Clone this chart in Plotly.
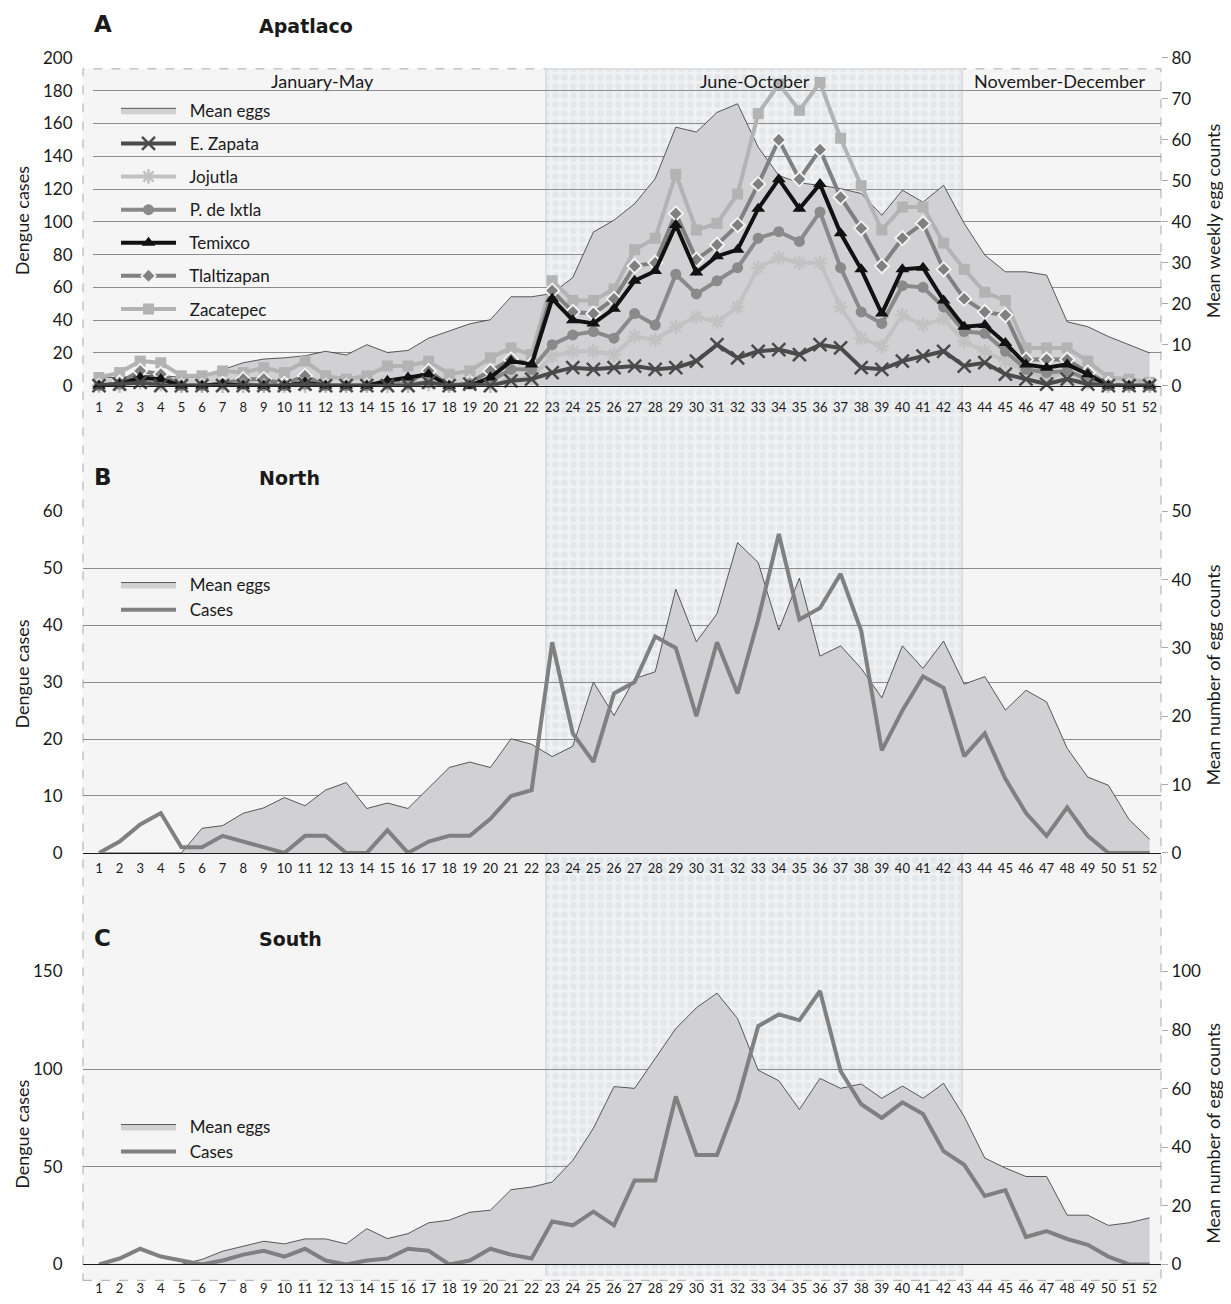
import plotly.graph_objects as go

W, H = 1231, 1304          # browser window
OFF = 8                    # default body margin of the page
FW, FH = W - 2 * OFF, H - 2 * OFF
# measured vertical placement of the rendered page inside the photograph
PHOTO_Y0, PHOTO_YS = 10.1, 0.9796

# ---------------- data ----------------
weeks = list(range(1, 53))
week_labels = [str(w) for w in weeks]

# Panel A - Apatlaco (mean eggs on right axis, cases on left axis)
apatlaco_eggs = [2.0, 2.0, 2.5, 2.5, 2.0, 2.3, 3.9, 5.6, 6.5, 6.8, 7.3, 8.4, 7.5, 10.0, 8.1, 8.6,
                 11.6, 13.3, 15.1, 16.1, 21.7, 21.7, 22.5, 26.4, 37.5, 40.4, 44.4, 50.5, 63.1, 61.9,
                 66.7, 68.8, 58.2, 51.3, 49.5, 48.9, 48.1, 46.9, 41.6, 47.7, 44.8, 48.9, 39.6, 31.9,
                 27.8, 27.8, 27.0, 15.6, 14.4, 12.0, 10.0, 8.0]
e_zapata = [0, 1, 2, 0, 0, 0, 0, 0, 0, 0, 1, 0, 0, 0, 0, 0, 2, 0, 1, 0, 3, 4,
            8, 11, 10, 11, 12, 10, 11, 15, 25, 17, 21, 22, 19, 25,
            23, 11, 10, 15, 18, 21, 12, 14, 7, 4, 1, 4, 1, 0, 0, 0]
jojutla = [0, 0, 2, 1, 0, 0, 0, 0, 0, 0, 0, 0, 0, 0, 0, 0, 1, 0, 2, 0, 4, 5,
           18, 21, 21, 19, 30, 28, 36, 42, 39, 48, 72, 78, 75, 75,
           48, 29, 24, 43, 37, 41, 27, 21, 15, 9, 4, 9, 2, 0, 0, 0]
p_ixtla = [0, 1, 3, 2, 0, 0, 1, 1, 0, 0, 1, 0, 0, 0, 1, 1, 2, 0, 1, 3, 10, 10,
           25, 31, 33, 29, 44, 37, 68, 56, 64, 72, 90, 94, 88, 106,
           72, 45, 38, 61, 60, 48, 33, 32, 21, 10, 8, 9, 4, 0, 0, 0]
temixco = [0, 1, 5, 4, 0, 0, 1, 0, 0, 0, 2, 0, 0, 0, 3, 5, 7, 0, 0, 5, 15, 13,
           53, 40, 38, 47, 64, 70, 98, 69, 79, 83, 108, 126, 108, 123,
           93, 71, 44, 71, 72, 52, 36, 37, 26, 13, 11, 13, 7, 0, 0, 0]
tlaltizapan = [0, 2, 9, 7, 0, 0, 1, 4, 4, 1, 6, 0, 0, 0, 1, 2, 9, 0, 2, 9, 16, 13,
               58, 45, 44, 53, 73, 75, 105, 77, 86, 98, 123, 150, 126, 144,
               115, 96, 73, 90, 99, 71, 53, 45, 43, 16, 16, 16, 8, 1, 0, 0]
zacatepec = [5, 8, 15, 14, 6, 6, 9, 8, 11, 8, 15, 6, 4, 6, 12, 12, 15, 7, 9, 17, 23, 19,
             64, 52, 52, 59, 83, 90, 129, 95, 99, 117, 166, 184, 168, 185,
             151, 122, 95, 109, 109, 87, 71, 57, 52, 23, 23, 23, 15, 5, 4, 2]

# Panel B - North
north_eggs = [0, 0, 0, 0, 0, 3.6, 4.0, 5.8, 6.6, 8.1, 6.9, 9.2, 10.3, 6.5, 7.3, 6.5, 9.5,
              12.5, 13.3, 12.5, 16.7, 15.9, 14.1, 15.6, 25.0, 20.1, 25.5, 26.5, 38.6, 30.9,
              35.0, 45.4, 42.5, 32.6, 40.2, 28.8, 30.3, 27.0, 22.7, 30.3, 27.0, 31.0, 24.7,
              25.8, 20.9, 23.8, 22.1, 15.3, 11.1, 9.9, 4.9, 2.0]
north_cases = [0, 2, 5, 7, 1, 1, 3, 2, 1, 0, 3, 3, 0, 0, 4, 0, 2, 3, 3, 6, 10, 11,
               37, 21, 16, 28, 30, 38, 36, 24, 37, 28, 41, 56, 41, 43, 49, 39, 18, 25,
               31, 29, 17, 21, 13, 7, 3, 8, 3, 0, 0, 0]

# Panel C - South
south_eggs = [0, 0, 0, 0, 0, 1.7, 4.5, 6.2, 7.9, 7.0, 8.7, 8.7, 7.0, 12.2, 8.8, 10.5, 14.2,
              15.1, 17.8, 18.5, 25.5, 26.4, 28.1, 35.5, 46.5, 60.7, 60.1, 70.3, 80.5, 87.6,
              92.6, 83.9, 66.3, 62.7, 52.9, 63.5, 60.1, 61.6, 56.7, 60.9, 56.7, 61.8, 50.5,
              36.3, 32.9, 30.0, 30.0, 16.8, 16.8, 13.3, 14.2, 15.9]
south_cases = [0, 3, 8, 4, 2, 0, 2, 5, 7, 4, 8, 2, 0, 2, 3, 8, 7, 0, 2, 8, 5, 3,
               22, 20, 27, 20, 43, 43, 86, 56, 56, 84, 122, 128, 125, 140, 99, 82, 75, 83,
               77, 58, 51, 35, 38, 14, 17, 13, 10, 4, 0, 0]

season_names = ["January-May", "June-October", "November-December"]
rainy_season_weeks = (22.7, 42.9)

# ---------------- helpers ----------------
FONT = "Lato, 'Open Sans', sans-serif"
TITLE_FONT = "'DejaVu Sans', sans-serif"
WEEK1_PX, WEEK_STEP = 99.0, 20.6
NB = "\u00a0\u00a0"


def fx(p):
    return (p - OFF) / FW


def fy(t):
    page = (t - PHOTO_Y0) / PHOTO_YS
    return 1 - (page - OFF) / FH


def week_at(p):
    return (p - WEEK1_PX) / WEEK_STEP + 1


fig = go.Figure()

# rainy-season patterned band (drawn first -> bottom layer)
fig.add_trace(go.Scatter(
    x=[rainy_season_weeks[0], rainy_season_weeks[1], rainy_season_weeks[1], rainy_season_weeks[0], rainy_season_weeks[0]],
    y=[68, 68, 1284, 1284, 68], xaxis="x", yaxis="y", mode="lines", fill="toself",
    line=dict(color="#dcdfe2", width=2), fillcolor="#eef0f2",
    fillpattern=dict(shape=".", fgcolor="#dadde1", bgcolor="#eff1f3", size=9, solidity=0.45),
    showlegend=False, hoverinfo="skip"))

EGG_FILL = "#d1d1d3"
EGG_LINE = "#333333"

# ---- Panel A ----
fig.add_trace(go.Scatter(x=weeks, y=apatlaco_eggs, name=NB + "Mean eggs", xaxis="x2", yaxis="y2",
                         mode="lines", fill="tozeroy", fillcolor=EGG_FILL,
                         line=dict(color=EGG_LINE, width=0.8), legend="legend",
                         legendgroup="a0", legendrank=1, cliponaxis=False))

series_a = [
    ("Zacatepec", zacatepec, "#b3b3b3", "square", 11, None, 7),
    ("Tlaltizapan", tlaltizapan, "#808080", "diamond", 11, "#f4f4f4", 6),
    ("Jojutla", jojutla, "#c2c2c2", "asterisk-open", 12, None, 3),
    ("P. de Ixtla", p_ixtla, "#8a8a8a", "circle", 11, None, 4),
    ("Temixco", temixco, "#111111", "triangle-up", 12, None, 5),
    ("E. Zapata", e_zapata, "#4a4a4a", "x-thin-open", 13, None, 2),
]
for name, vals, col, sym, size, mline, rank in series_a:
    if sym.endswith("open"):
        marker = dict(symbol=sym, size=size, color=col, line=dict(color=col, width=2.5))
    elif mline:
        marker = dict(symbol=sym, size=size, color=col, line=dict(color=mline, width=1.8))
    else:
        marker = dict(symbol=sym, size=size, color=col, line=dict(width=0))
    fig.add_trace(go.Scatter(x=weeks, y=vals, name=NB + name, xaxis="x2", yaxis="y3",
                             mode="lines+markers", line=dict(color=col, width=4),
                             marker=marker, legend="legend", legendgroup="a%d" % rank,
                             legendrank=rank, cliponaxis=False))

# ---- Panel B ----
fig.add_trace(go.Scatter(x=weeks, y=north_eggs, name=NB + "Mean eggs", xaxis="x3", yaxis="y4",
                         mode="lines", fill="tozeroy", fillcolor=EGG_FILL,
                         line=dict(color=EGG_LINE, width=0.8), legend="legend2", cliponaxis=False))
fig.add_trace(go.Scatter(x=weeks, y=north_cases, name=NB + "Cases", xaxis="x3", yaxis="y5",
                         mode="lines", line=dict(color="#808080", width=4), legend="legend2",
                         cliponaxis=False))

# ---- Panel C ----
fig.add_trace(go.Scatter(x=weeks, y=south_eggs, name=NB + "Mean eggs", xaxis="x4", yaxis="y6",
                         mode="lines", fill="tozeroy", fillcolor=EGG_FILL,
                         line=dict(color=EGG_LINE, width=0.8), legend="legend3", cliponaxis=False))
fig.add_trace(go.Scatter(x=weeks, y=south_cases, name=NB + "Cases", xaxis="x4", yaxis="y7",
                         mode="lines", line=dict(color="#808080", width=4), legend="legend3",
                         cliponaxis=False))

# ---------------- axes ----------------
TICKF = dict(family=FONT, size=17, color="#1a1a1a")
WEEKF = dict(family=FONT, size=13, color="#1a1a1a")
GRID = "#8c8c8c"


def xaxis_def(left_px, anchor, standoff):
    return dict(domain=[fx(left_px), fx(1161)], range=[week_at(left_px), week_at(1161)],
                anchor=anchor, tickmode="array", tickvals=weeks, ticktext=week_labels,
                tickfont=WEEKF, ticks="outside", ticklen=standoff, tickcolor="rgba(0,0,0,0)",
                showgrid=False, zeroline=False, showline=True, linecolor="#1a1a1a",
                linewidth=1.3, fixedrange=True)


def egg_axis(top_px, bottom_px, rmax, step, anchor):
    return dict(domain=[fy(bottom_px), fy(top_px)], range=[0, rmax], anchor=anchor, side="right",
                tickmode="linear", tick0=0, dtick=step, tickfont=TICKF, showgrid=False,
                zeroline=False, ticks="outside", ticklen=6, tickcolor="#aaaaaa", fixedrange=True)


def case_axis(rmax, step, anchor, over, standoff):
    return dict(range=[0, rmax], anchor=anchor, overlaying=over, side="left",
                tickmode="linear", tick0=0, dtick=step, tickfont=TICKF, showgrid=True,
                gridcolor=GRID, gridwidth=1, zeroline=False, ticks="outside",
                ticklen=standoff, tickcolor="rgba(0,0,0,0)", fixedrange=True)


layout = dict(
    width=FW, height=FH, margin=dict(l=0, r=0, t=0, b=0),
    paper_bgcolor="white", plot_bgcolor="rgba(0,0,0,0)",
    font=dict(family=FONT, color="#1a1a1a"),
    xaxis=dict(domain=[fx(83), fx(1161)], range=[week_at(83), week_at(1161)], visible=False,
               fixedrange=True),
    yaxis=dict(domain=[0, 1],
               range=[PHOTO_Y0 + PHOTO_YS * (H - OFF), PHOTO_Y0 + PHOTO_YS * OFF],
               visible=False, fixedrange=True),
    xaxis2=xaxis_def(93, "y2", 10),
    yaxis2=egg_axis(57, 386, 80, 10, "x2"),
    yaxis3=case_axis(200, 20, "x2", "y2", 16),
    xaxis3=xaxis_def(83, "y4", 3),
    yaxis4=egg_axis(512, 855, 50, 10, "x3"),
    yaxis5=case_axis(60, 10, "x3", "y4", 16),
    xaxis4=xaxis_def(83, "y6", 12),
    yaxis6=egg_axis(974, 1268, 100, 20, "x4"),
    yaxis7=case_axis(150, 50, "x4", "y6", 16),
)

LEGF = dict(family=FONT, size=17, color="#1a1a1a")
layout["legend"] = dict(x=fx(116), y=fy(92), xanchor="left", yanchor="top", font=LEGF,
                        bgcolor="rgba(0,0,0,0)", itemwidth=55, tracegroupgap=8,
                        traceorder="grouped")
layout["legend2"] = dict(x=fx(116), y=fy(568), xanchor="left", yanchor="top", font=LEGF,
                         bgcolor="rgba(0,0,0,0)", itemwidth=55)
layout["legend3"] = dict(x=fx(116), y=fy(1112), xanchor="left", yanchor="top", font=LEGF,
                         bgcolor="rgba(0,0,0,0)", itemwidth=55)

fig.update_layout(**layout)

# background box with dashed border
fig.add_shape(type="rect", xref="paper", yref="paper", x0=fx(83), x1=fx(1161), y0=fy(1284),
              y1=fy(68), fillcolor="#f5f5f5", line=dict(color="#a9a9a9", width=1, dash="dash"),
              layer="below")

ann = []


def text(x, y, s, size=17, anchor="left", bold=False, angle=0, family=FONT):
    ann.append(dict(xref="paper", yref="paper", x=fx(x), y=fy(y), text=("<b>%s</b>" % s) if bold else s,
                    showarrow=False, xanchor=anchor, yanchor="middle", textangle=angle,
                    font=dict(family=family, size=size, color="#1a1a1a")))


text(92, 23, "A", 23, bold=True, family=TITLE_FONT)
text(257, 25, "Apatlaco", 19, bold=True, family=TITLE_FONT)
text(92, 478, "B", 23, bold=True, family=TITLE_FONT)
text(257, 479, "North", 19, bold=True, family=TITLE_FONT)
text(92, 940, "C", 23, bold=True, family=TITLE_FONT)
text(257, 941, "South", 19, bold=True, family=TITLE_FONT)

text(322, 80, season_names[0], 18, anchor="center")
text(755, 80, season_names[1], 18, anchor="center")
text(1060, 80, season_names[2], 18, anchor="center")

text(22, 221, "Dengue cases", 18, anchor="center", angle=-90)
text(1213, 221, "Mean weekly egg counts", 18, anchor="center", angle=-90)
text(22, 676, "Dengue cases", 18, anchor="center", angle=-90)
text(1213, 677, "Mean number of egg counts", 18, anchor="center", angle=-90)
text(22, 1138, "Dengue cases", 18, anchor="center", angle=-90)
text(1213, 1137, "Mean number of egg counts", 18, anchor="center", angle=-90)

fig.update_layout(annotations=ann)

fig.write_html("out.html", config={"displayModeBar": False})
